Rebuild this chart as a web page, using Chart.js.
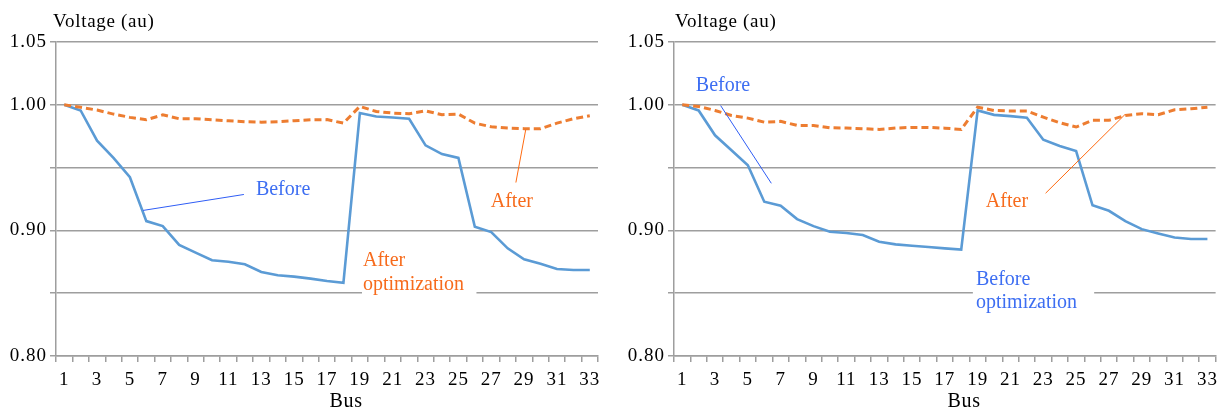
<!DOCTYPE html>
<html>
<head>
<meta charset="utf-8">
<script src="https://cdn.jsdelivr.net/npm/chart.js@4.4.1/dist/chart.umd.min.js"></script>
<style>
  html, body { margin: 0; padding: 0; background: #fff; }
  .row { display: flex; width: 1225px; height: 412px; }
  .box { position: relative; height: 412px; }
</style>
</head>
<body>
<div class="row">
  <div class="box" style="width:612px"><canvas id="left"></canvas></div>
  <div class="box" style="width:613px"><canvas id="right"></canvas></div>
</div>
<script>
// bus numbers on the x axis
const BUS = ["1","2","3","4","5","6","7","8","9","10","11","12","13","14","15","16","17",
             "18","19","20","21","22","23","24","25","26","27","28","29","30","31","32","33"];

// left panel (voltage, au)
const LEFT_BEFORE = [1.000, 0.9955, 0.9714, 0.9577, 0.9423, 0.9074, 0.9034, 0.8884, 0.8823, 0.8762, 0.8751,
                     0.8730, 0.8669, 0.8643, 0.8632, 0.8616, 0.8597, 0.8582, 0.9934, 0.9907, 0.9899, 0.9889,
                     0.9677, 0.9608, 0.9577, 0.9029, 0.8987, 0.8857, 0.8770, 0.8735, 0.8693, 0.8685, 0.8685];
const LEFT_AFTER = [1.000, 0.998, 0.9958, 0.9926, 0.990, 0.9881, 0.992, 0.9889, 0.9889, 0.9881, 0.9873,
                    0.9865, 0.9862, 0.9865, 0.9873, 0.9881, 0.9882, 0.9854, 0.9987, 0.9947, 0.9934, 0.9929,
                    0.9952, 0.9921, 0.9926, 0.9854, 0.9825, 0.9815, 0.981, 0.981, 0.9854, 0.9889, 0.9913];

// right panel (voltage, au)
const RIGHT_BEFORE = [1.000, 0.9955, 0.9757, 0.9638, 0.9519, 0.9228, 0.9196, 0.909, 0.9034, 0.8989, 0.8979,
                      0.8963, 0.891, 0.8889, 0.8878, 0.8868, 0.8857, 0.8847, 0.9955, 0.992, 0.991, 0.9897,
                      0.9722, 0.9672, 0.9632, 0.920, 0.9156, 0.9074, 0.901, 0.8976, 0.8944, 0.8931, 0.8931];
const RIGHT_AFTER = [1.000, 0.9987, 0.9955, 0.9915, 0.9894, 0.9862, 0.9868, 0.9836, 0.9836, 0.9817, 0.9815,
                     0.981, 0.9804, 0.9815, 0.982, 0.982, 0.9814, 0.9804, 0.9981, 0.9955, 0.995, 0.995,
                     0.9902, 0.9857, 0.9823, 0.9876, 0.9876, 0.9915, 0.9929, 0.9921, 0.996, 0.9968, 0.9981];

// y tick labels, from 0.80 up in steps of 0.05 (0.85 and 0.95 unlabeled)
const Y_TICK_LABELS = ["0.80", "", "0.90", "", "1.00", "1.05"];

const SERIF = '"Liberation Serif", "Times New Roman", serif';
const GRID = "#9e9e9e";
const BLUE_LINE = "#5b9bd5";
const ORANGE_LINE = "#ed7d31";
const BLUE_TEXT = "#3d6ef2";
const ORANGE_TEXT = "#f76b1c";

// axis titles, leader lines and free text
const notesPlugin = {
  id: "notes",
  beforeLayout(chart) { chart.ctx.letterSpacing = "1px"; },
  beforeDraw(chart) { chart.ctx.letterSpacing = "1px"; },
  afterDraw(chart, args, opts) {
    const { ctx, chartArea, scales: { x, y } } = chart;
    const px = (i) => x.getPixelForValue(i);
    const py = (v) => y.getPixelForValue(v);
    ctx.save();
    ctx.fillStyle = "#000";
    ctx.textBaseline = "alphabetic";
    ctx.letterSpacing = "0.7px";
    ctx.font = "19px " + SERIF;
    ctx.textAlign = "left";
    ctx.fillText("Voltage (au)", chartArea.left + opts.titleDx, 27);
    ctx.font = "20px " + SERIF;
    ctx.textAlign = "center";
    ctx.fillText("Bus", chartArea.left + 290, 407);

    ctx.letterSpacing = "0px";
    // gaps in the 0.85 grid line behind the text
    ctx.fillStyle = "#fff";
    opts.gaps.forEach((g) => {
      ctx.fillRect(px(g.from), py(g.v) - 3, px(g.to) - px(g.from), 6);
    });
    ctx.lineWidth = 1;
    opts.leaders.forEach((l) => {
      ctx.strokeStyle = l.color;
      ctx.beginPath();
      ctx.moveTo(px(l.i0), py(l.v0));
      ctx.lineTo(px(l.i1), py(l.v1));
      ctx.stroke();
    });
    ctx.font = "20px " + SERIF;
    ctx.textAlign = "left";
    opts.texts.forEach((t) => {
      ctx.fillStyle = t.color;
      ctx.fillText(t.text, px(t.i), py(t.v));
    });
    ctx.restore();
  },
};

function makeChart(id, before, after, yWidth, padRight, notes) {
  return new Chart(document.getElementById(id), {
    type: "line",
    data: {
      labels: BUS,
      datasets: [
        { label: "After", data: after, borderColor: ORANGE_LINE, borderWidth: 3, borderDash: [7, 4],
          pointRadius: 0, tension: 0, fill: false },
        { label: "Before", data: before, borderColor: BLUE_LINE, borderWidth: 2.6,
          pointRadius: 0, tension: 0, fill: false },
      ],
    },
    options: {
      responsive: true,
      maintainAspectRatio: false,
      animation: false,
      layout: { padding: { left: 0, right: padRight, top: 42, bottom: 0 } },
      plugins: { legend: { display: false }, tooltip: { enabled: false }, notes },
      scales: {
        x: {
          type: "category",
          offset: true,
          grid: { offset: true, drawOnChartArea: false, drawTicks: true, tickLength: 6, color: GRID, lineWidth: 1.5 },
          border: { display: true, color: GRID, width: 1.5 },
          ticks: {
            autoSkip: false, maxRotation: 0, padding: 7, color: "#000",
            font: { family: SERIF, size: 19 },
            callback: (v, i) => (i % 2 === 0 ? BUS[i] : ""),
          },
          afterFit: (s) => { s.height = 56; },
        },
        y: {
          min: 0.8, max: 1.05,
          grid: { color: GRID, lineWidth: 1.5, tickLength: 6 },
          border: { display: true, color: GRID, width: 1.5 },
          ticks: {
            stepSize: 0.05, padding: 3, color: "#000",
            font: { family: SERIF, size: 19 },
            callback: (v, i) => Y_TICK_LABELS[i],
          },
          afterFit: (s) => { s.width = yWidth; },
        },
      },
    },
    plugins: [notesPlugin],
  });
}

makeChart("left", LEFT_BEFORE, LEFT_AFTER, 56, 14, {
  titleDx: -3,
  gaps: [{ from: 18.13, to: 25.1, v: 0.85 }],
  leaders: [
    { color: "#2f5df5", i0: 10.94, v0: 0.9286, i1: 4.8, v1: 0.9159 },
    { color: "#ff6a10", i0: 27.5, v0: 0.9381, i1: 28.1, v1: 0.9802 },
  ],
  texts: [
    { text: "Before", color: BLUE_TEXT, i: 11.67, v: 0.9278 },
    { text: "After", color: ORANGE_TEXT, i: 25.97, v: 0.9183 },
    { text: "After", color: ORANGE_TEXT, i: 18.19, v: 0.8714 },
    { text: "optimization", color: ORANGE_TEXT, i: 18.19, v: 0.8524 },
  ],
});

makeChart("right", RIGHT_BEFORE, RIGHT_AFTER, 62, 6, {
  titleDx: 1,
  gaps: [{ from: 17.71, to: 25.1, v: 0.85 }],
  leaders: [
    { color: "#2f5df5", i0: 2.34, v0: 0.9994, i1: 5.43, v1: 0.9375 },
    { color: "#ff6a10", i0: 22.14, v0: 0.9296, i1: 26.98, v1: 0.9923 },
  ],
  texts: [
    { text: "Before", color: BLUE_TEXT, i: 0.83, v: 1.0106 },
    { text: "After", color: ORANGE_TEXT, i: 18.5, v: 0.9185 },
    { text: "Before", color: BLUE_TEXT, i: 17.9, v: 0.8566 },
    { text: "optimization", color: BLUE_TEXT, i: 17.9, v: 0.8383 },
  ],
});
</script>
</body>
</html>
